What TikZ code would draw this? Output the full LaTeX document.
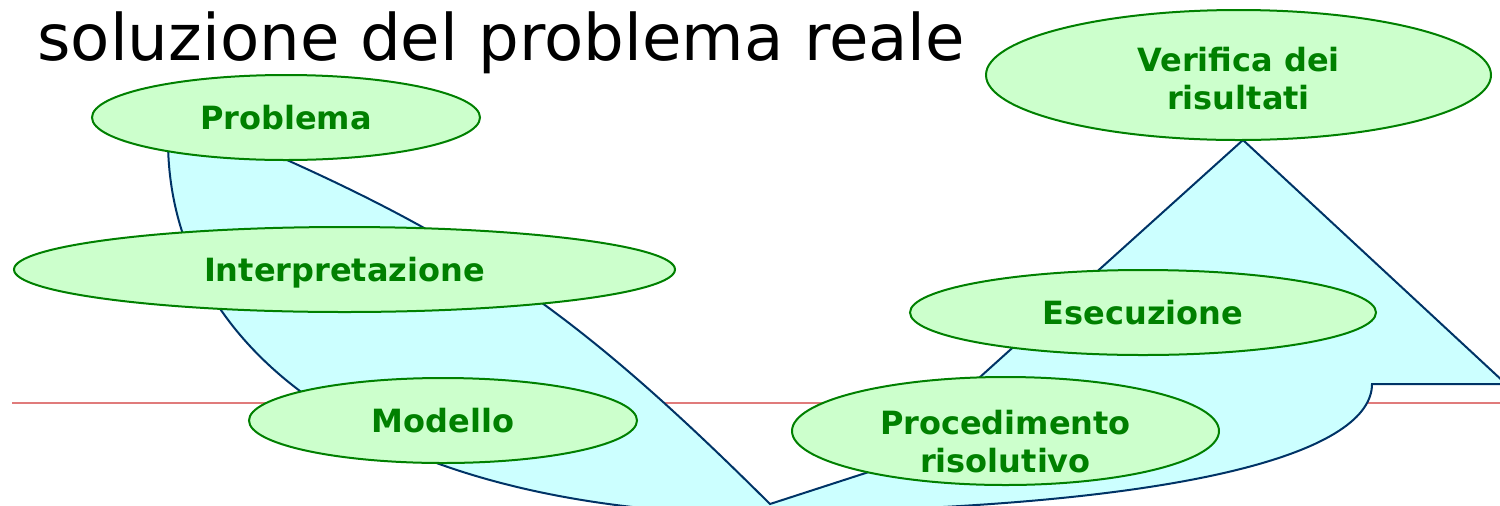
\documentclass[tikz,border=0pt]{standalone}
\usepackage{fontspec}
\setmainfont{DejaVu Sans}
\usetikzlibrary{shapes.geometric}
\definecolor{ellfill}{HTML}{CCFFCC}
\definecolor{ellline}{HTML}{008000}
\definecolor{arrfill}{HTML}{CCFFFF}
\definecolor{arrline}{HTML}{003366}
\definecolor{redline}{HTML}{E07B7B}
\tikzset{
  phase/.style={ellipse, draw=ellline, line width=1pt, fill=ellfill, inner sep=0pt,
    font=\bfseries\fontsize{16}{19}\selectfont, text=ellline, align=center,
    text height=12.4pt, text depth=0pt},
  bigarrow/.style={fill=arrfill, draw=arrline, line width=1pt, line join=miter},
  refline/.style={draw=redline, line width=1pt}
}
\begin{document}
\begin{tikzpicture}[x=0.5pt,y=-0.5pt]
\useasboundingbox (0,0) rectangle (1500,505);
% reference line
\coordinate (rl) at (12,403);
\coordinate (rr) at (1500,403);
\draw[refline] (rl) -- (rr);
% big U-shaped arrow
\begin{scope}
\clip (0,0) rectangle (1500,505);
\path[bigarrow] (168,140) -- (287,160) .. controls (487,250) and (590,325) .. (770,504)
  -- (878,469) -- (1243,140) -- (1506,384) -- (1372,384)
  .. controls (1372,450) and (1200,505) .. (800,512) -- (780,515)
  .. controls (369,515) and (168,347) .. (168,140) -- cycle;
\end{scope}
% phases
\node[phase, minimum width=194pt, minimum height=42.5pt] (prob) at (286,117.5) {Problema};
\node[phase, minimum width=330.5pt, minimum height=42.5pt] (interp) at (344.5,269.5) {Interpretazione};
\node[phase, minimum width=194pt, minimum height=42.5pt] (mod) at (443,420.5) {Modello};
\node[phase, text height=41pt, inner ysep=-2pt, minimum width=213.5pt, minimum height=54pt] (proc) at (1005.5,431) {Procedimento\\risolutivo};
\node[phase, minimum width=233pt, minimum height=42.5pt] (esec) at (1143,312.5) {Esecuzione};
\node[phase, text height=34pt, minimum width=252.5pt, minimum height=65pt] (verif) at (1238.5,75) {Verifica dei\\risultati};
% title
\node[anchor=base west, inner sep=0pt, font=\fontsize{32.1}{38}\selectfont] (title) at (37,60.5) {soluzione del problema reale};
\end{tikzpicture}
\end{document}
